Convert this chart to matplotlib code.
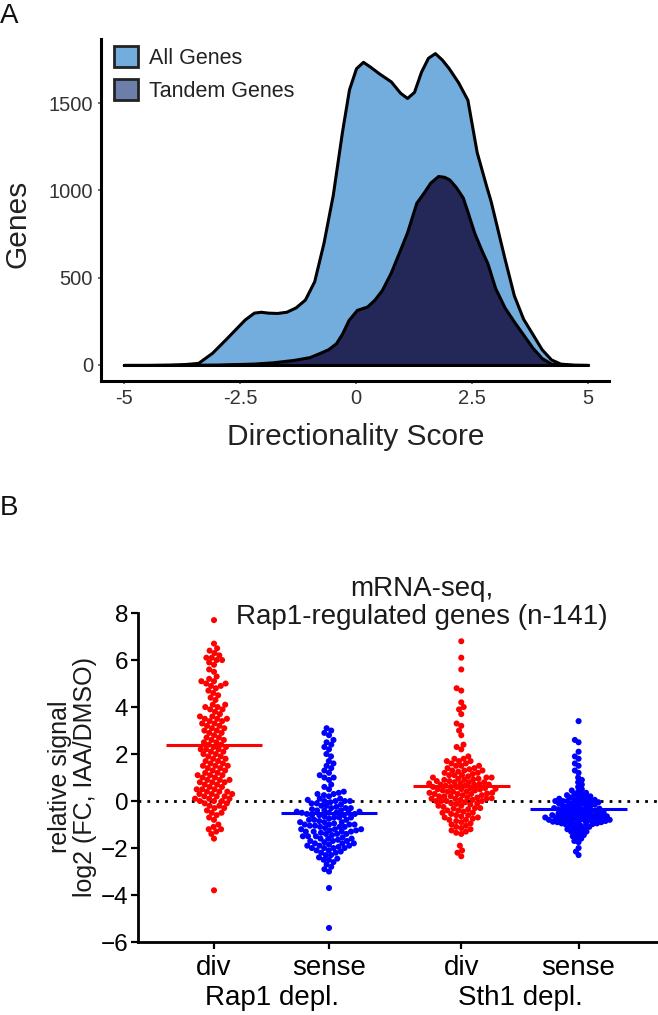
import numpy as np
import matplotlib
matplotlib.use('Agg')
import matplotlib.pyplot as plt
import matplotlib.transforms as mtransforms
from matplotlib.patches import Patch

plt.rcParams['font.family'] = ['Liberation Sans', 'DejaVu Sans']

# ---------------- panel A : density of directionality score ----------------
score_all = [-5, -4.5, -4.0, -3.7, -3.4, -3.1, -2.8, -2.6, -2.4, -2.2, -2.05, -1.9,
             -1.7, -1.5, -1.3, -1.1, -0.9, -0.7, -0.5, -0.3, -0.15, 0.0, 0.15, 0.3,
             0.5, 0.75, 0.95, 1.1, 1.25, 1.4, 1.55, 1.7, 1.85, 2.0, 2.2, 2.4, 2.6,
             2.8, 2.9, 3.0, 3.2, 3.4, 3.6, 3.8, 4.0, 4.2, 4.4, 4.7, 5.0]
genes_all = [0, 0, 2, 5, 12, 70, 150, 205, 260, 300, 305, 300,
             298, 305, 330, 375, 480, 700, 975, 1340, 1580, 1700, 1737, 1710,
             1670, 1625, 1560, 1530, 1565, 1680, 1760, 1787, 1750, 1700, 1620, 1520, 1220,
             1030, 940, 830, 610, 400, 265, 178, 90, 32, 8, 1, 0]

score_tandem = [-5, -4.0, -3.0, -2.2, -1.8, -1.34, -1.0, -0.8, -0.6, -0.43, -0.3, -0.16,
                0.02, 0.24, 0.4, 0.56, 0.75, 0.92, 1.1, 1.3, 1.45, 1.6, 1.77, 1.9,
                2.01, 2.15, 2.3, 2.4, 2.55, 2.7, 2.83, 3.0, 3.2, 3.4, 3.6, 3.8, 4.0,
                4.2, 4.5, 5.0]
genes_tandem = [0, 0, 2, 8, 15, 29, 45, 67, 90, 125, 180, 258,
                316, 335, 375, 431, 530, 641, 760, 930, 985, 1045, 1083, 1078,
                1063, 1020, 960, 880, 756, 660, 584, 440, 330, 250, 175, 100, 40,
                8, 1, 0]

a_xticks = [-5, -2.5, 0, 2.5, 5]
a_xticklabels = ['-5', '-2.5', '0', '2.5', '5']
a_yticks = [0, 500, 1000, 1500]

# ---------------- panel B : mRNA-seq scatter ----------------
rap1_div = [7.7,
            6.7, 6.5, 6.4, 6.3, 6.2, 6.1, 6.1, 6.0, 6.0, 5.9,
            5.8, 5.6, 5.5, 5.3, 5.2, 5.1, 5.1, 5.0, 5.0, 4.9, 4.9,
            4.8, 4.7, 4.6, 4.5, 4.4, 4.3, 4.1, 4.1, 4.0, 4.0, 3.9, 3.9,
            3.8, 3.7, 3.6, 3.6, 3.5, 3.5, 3.5, 3.4, 3.4, 3.3, 3.3, 3.2, 3.2, 3.1, 3.1, 3.0, 3.0, 2.9, 2.9,
            2.8, 2.7, 2.7, 2.6, 2.6, 2.5, 2.5, 2.4, 2.4, 2.3, 2.3, 2.2, 2.2, 2.2, 2.1, 2.1, 2.0, 2.0,
            1.9, 1.9, 1.8, 1.8,
            1.7, 1.7, 1.6, 1.6, 1.5, 1.5, 1.5, 1.4, 1.4, 1.3, 1.3, 1.2, 1.2, 1.1, 1.1, 1.1,
            1.0, 1.0, 0.9, 0.9, 0.9, 0.8, 0.8, 0.8, 0.7,
            0.7, 0.6, 0.6, 0.5, 0.5, 0.5, 0.4, 0.4, 0.4, 0.3, 0.3, 0.3, 0.2, 0.2, 0.2,
            0.1, 0.1, 0.1, 0.0, 0.0, 0.0, -0.1, -0.1,
            -0.2, -0.2, -0.3, -0.3, -0.4, -0.5, -0.5, -0.6, -0.7, -0.8,
            -1.0, -1.1, -1.2, -1.2, -1.3, -1.4, -1.6,
            -3.8]

rap1_sense = [3.1, 3.0, 2.9, 2.8, 2.6, 2.5, 2.4, 2.3, 2.2, 2.0, 1.9,
              1.7, 1.6, 1.5, 1.4, 1.3, 1.2, 1.1, 1.0, 1.0,
              0.9, 0.7, 0.6, 0.5, 0.4, 0.35, 0.3, 0.3, 0.25, 0.2, 0.1, 0.1, 0.05,
              0.0, 0.0, 0.0, 0.0, -0.05,
              -0.1, -0.1, -0.15, -0.2, -0.2, -0.25, -0.3, -0.3, -0.3, -0.35, -0.4, -0.4, -0.4,
              -0.45, -0.45, -0.5, -0.5, -0.5, -0.5, -0.55, -0.55, -0.6, -0.6, -0.6, -0.65,
              -0.7, -0.7, -0.7, -0.75, -0.8, -0.8, -0.8, -0.85, -0.9, -0.9, -0.9, -0.95,
              -1.0, -1.0, -1.0, -1.0, -1.05, -1.05,
              -1.1, -1.1, -1.1, -1.15, -1.2, -1.2, -1.2, -1.25, -1.25, -1.3, -1.3, -1.3, -1.3,
              -1.35, -1.4, -1.4, -1.4, -1.45, -1.5, -1.5, -1.5, -1.55, -1.6, -1.6, -1.6,
              -1.65, -1.7, -1.7, -1.7, -1.75, -1.8, -1.8, -1.8, -1.85, -1.9, -1.9, -1.9,
              -1.95, -2.0, -2.0, -2.0, -2.0,
              -2.1, -2.1, -2.15, -2.2, -2.2, -2.3, -2.3, -2.4, -2.45, -2.5, -2.5, -2.6,
              -2.7, -2.8, -2.9, -3.0,
              -3.7, -5.4]

sth1_div = [6.8, 6.1, 5.6, 4.8, 4.7, 4.2, 4.0, 3.9, 3.7, 3.3, 3.2, 3.0, 2.8, 2.4, 2.3, 2.2,
            1.9, 1.8, 1.8, 1.7, 1.7, 1.7, 1.6, 1.6, 1.5, 1.5, 1.5, 1.4, 1.4, 1.35, 1.3, 1.3,
            1.3, 1.25, 1.2, 1.2, 1.15, 1.1, 1.1, 1.1, 1.05, 1.0, 1.0, 1.0,
            0.95, 0.95, 0.92, 0.9, 0.9, 0.85, 0.85, 0.8, 0.8, 0.8, 0.75, 0.75, 0.72, 0.7, 0.7,
            0.7, 0.65, 0.65, 0.6, 0.6, 0.6, 0.55, 0.55, 0.52, 0.5, 0.5, 0.5, 0.45, 0.45,
            0.4, 0.4, 0.4, 0.35, 0.35, 0.32, 0.3, 0.3, 0.3, 0.25, 0.25, 0.2, 0.2, 0.2,
            0.15, 0.15, 0.12, 0.1, 0.1, 0.1, 0.05, 0.05, 0.0, 0.0, 0.0, 0.0,
            -0.05, -0.1, -0.1, -0.12, -0.15, -0.2, -0.2, -0.25, -0.3, -0.3, -0.32, -0.35,
            -0.4, -0.4, -0.45, -0.5, -0.5, -0.55, -0.6, -0.6, -0.65, -0.7, -0.7, -0.75,
            -0.8, -0.8, -0.85, -0.9, -0.95, -1.0,
            -1.05, -1.1, -1.15, -1.2, -1.25, -1.3, -1.35, -1.4,
            -1.9, -2.1, -2.2, -2.35]

sth1_sense = [3.4, 2.6, 2.5, 2.1, 1.9, 1.8, 1.6, 1.5, 1.3, 1.2, 1.0, 0.9, 0.8, 0.7, 0.6, 0.5,
              0.45, 0.4, 0.35, 0.3, 0.3, 0.25, 0.2, 0.2, 0.15, 0.15, 0.1, 0.1, 0.05, 0.05,
              0.0, 0.0, 0.0, 0.0, -0.02,
              -0.05, -0.05, -0.1, -0.1, -0.12, -0.15, -0.15, -0.2, -0.2, -0.22,
              -0.25, -0.25, -0.3, -0.3, -0.32, -0.35, -0.35, -0.38, -0.4, -0.4,
              -0.42, -0.45, -0.45, -0.48, -0.5, -0.5, -0.52, -0.55, -0.55, -0.58,
              -0.6, -0.6, -0.6, -0.62, -0.65, -0.65, -0.65, -0.68, -0.7, -0.7, -0.7,
              -0.72, -0.75, -0.75, -0.75, -0.78, -0.8, -0.8, -0.8, -0.8, -0.82,
              -0.85, -0.85, -0.85, -0.88, -0.9, -0.9, -0.9, -0.92, -0.95, -0.95,
              -0.98, -1.0, -1.0,
              -1.05, -1.05, -1.1, -1.1, -1.15, -1.2, -1.2, -1.25, -1.3, -1.3, -1.35,
              -1.4, -1.45, -1.5, -1.55, -1.6, -1.7, -1.75,
              -2.0, -2.15, -2.3]

b_means = [2.4, -0.5, 0.65, -0.35]
b_positions = [0, 1, 2.15, 3.17]
b_ticklabels = ['div', 'sense', 'div', 'sense']
b_groups = ['Rap1 depl.', 'Sth1 depl.']
b_colors = ['#ff0000', '#0000ff', '#ff0000', '#0000ff']
b_pack = [5.4, 5.2, 5.2, 4.4]   # dot spacing in px (points overlap a lot in the tight groups)


def swarm(vals, d_px, py_unit, px_unit):
    # simple beeswarm: put each point as close to the centre as it fits
    ys = np.asarray(vals, float) * py_unit
    xs = np.zeros(len(ys))
    done = []
    for i in np.argsort(ys):
        y = ys[i]
        near = [(px, py) for px, py in done if abs(py - y) < d_px]
        cands = [0.0]
        for px, py in near:
            dx = np.sqrt(d_px ** 2 - (py - y) ** 2)
            cands += [px - dx, px + dx]
        for c in sorted(cands, key=abs):
            if all((c - px) ** 2 + (y - py) ** 2 >= d_px ** 2 - 1e-6 for px, py in near):
                xs[i] = c
                break
        done.append((xs[i], y))
    return xs / px_unit


fig = plt.figure(figsize=(6.58, 10.15), dpi=100)

# ---- panel A
axA = fig.add_axes([0.153, 0.6246, 0.7725, 0.337])
axA.fill_between(score_all, genes_all, facecolor='#73addd', edgecolor='black', lw=2.2, zorder=1)
axA.fill_between(score_tandem, genes_tandem, facecolor='#232858', edgecolor='black', lw=2.2, zorder=2)
axA.set_xlim(-5.5, 5.45)
axA.set_ylim(-92, 1868)
axA.set_xticks(a_xticks)
axA.set_xticklabels(a_xticklabels)
axA.set_yticks(a_yticks)
for s in ['top', 'right']:
    axA.spines[s].set_visible(False)
for s in ['left', 'bottom']:
    axA.spines[s].set_linewidth(2.2)
axA.tick_params(length=2.5, width=1.3, color='#666666', labelsize=14.5, labelcolor='#333333', pad=3)

handles = [Patch(facecolor='#73addd', edgecolor='#222222', lw=2),
           Patch(facecolor='#6b7faa', edgecolor='#222222', lw=2)]
axA.legend(handles, ['All Genes', 'Tandem Genes'], loc='upper left',
           bbox_to_anchor=(0.0256, 0.9795), frameon=False, fontsize=15.5,
           handlelength=1.15, handleheight=1.15, handletextpad=0.47,
           labelspacing=0.47, borderpad=0, borderaxespad=0, labelcolor='#222222')

fig.text(0.540, 1 - 437 / 1015, 'Directionality Score', fontsize=21.5, color='#222222',
         ha='center', va='center')
fig.text(0.026, 1 - 224 / 1015, 'Genes', fontsize=21.5, color='#222222', rotation=90,
         ha='center', va='center')
fig.text(0.0, 1 - 16 / 1015, 'A', fontsize=20, color='#111111', ha='left', va='center')

# ---- panel B
axB = fig.add_axes([0.2097, 0.0719, 0.7888, 0.3241])
axB.set_xlim(-0.661, 3.852)
axB.set_ylim(-6, 8)
bb = axB.get_window_extent()
py_unit = bb.height / 14.0
px_unit = bb.width / (3.852 + 0.661)

axB.axhline(0, color='black', ls=(0, (1, 2.2)), lw=2, zorder=1)
for vals, pos, m, col, d in zip([rap1_div, rap1_sense, sth1_div, sth1_sense],
                                 b_positions, b_means, b_colors, b_pack):
    off = swarm(vals, d, py_unit, px_unit)
    axB.scatter(pos + off, vals, s=19, color=col, edgecolors='none', zorder=3)
    axB.hlines(m, pos - 0.42, pos + 0.42, color=col, lw=2.2, zorder=4)

axB.set_yticks(np.arange(-6, 9, 2))
axB.set_xticks(b_positions)
axB.set_xticklabels(b_ticklabels)
for s in ['top', 'right']:
    axB.spines[s].set_visible(False)
for s in ['left', 'bottom']:
    axB.spines[s].set_linewidth(2)
axB.tick_params(axis='y', length=5, width=1.6, labelsize=17.5, pad=2)
axB.tick_params(axis='x', length=5, width=1.6, labelsize=20, pad=4)

tr = mtransforms.blended_transform_factory(axB.transData, fig.transFigure)
axB.text((b_positions[0] + b_positions[1]) / 2, 1 - 998 / 1015, b_groups[0], transform=tr,
         fontsize=20, ha='center', va='center')
axB.text((b_positions[2] + b_positions[3]) / 2, 1 - 998 / 1015, b_groups[1], transform=tr,
         fontsize=20, ha='center', va='center')

fig.text(422 / 658, 1 - 603 / 1015, 'mRNA-seq,\nRap1-regulated genes (n-141)',
         fontsize=20, ha='center', va='center', linespacing=1.08, color='#1a1a1a')
fig.text(0.110, 1 - 777 / 1015, 'relative signal\nlog2 (FC, IAA/DMSO)', fontsize=18,
         rotation=90, ha='center', va='center', linespacing=1.08, color='#1a1a1a')
fig.text(0.0, 1 - 508 / 1015, 'B', fontsize=20, color='#111111', ha='left', va='center')

fig.savefig('out.png', dpi=100)
